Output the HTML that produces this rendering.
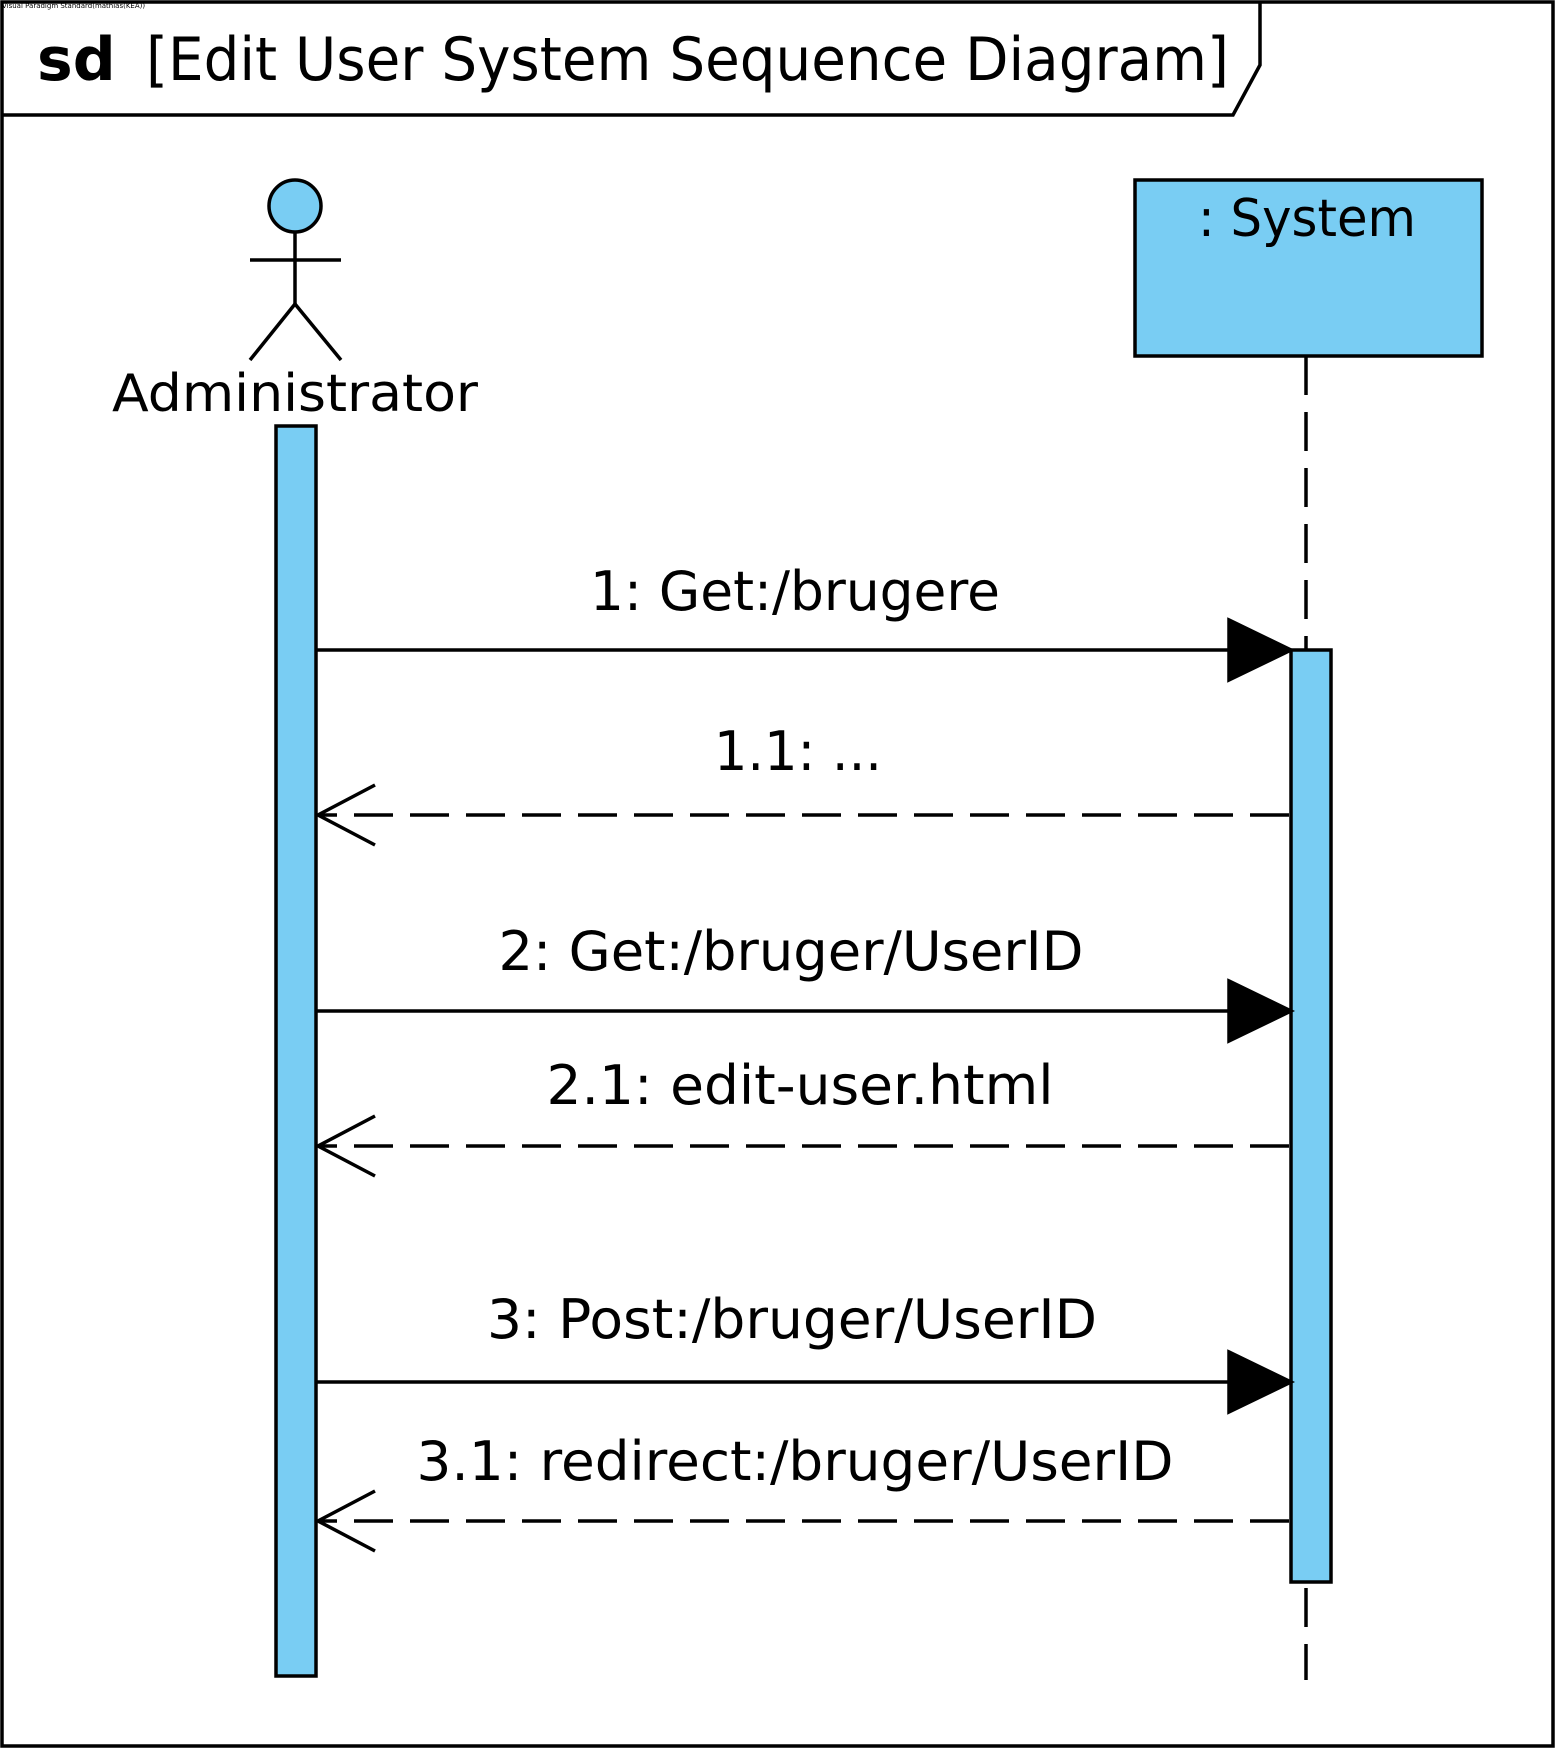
<!DOCTYPE html>
<html><head><meta charset="utf-8"><style>
html,body{margin:0;padding:0;background:#fff;width:1555px;height:1750px;overflow:hidden}
svg{display:block}
text{font-family:"DejaVu Sans","Liberation Sans",sans-serif;fill:#000}
</style></head><body>
<svg width="1555" height="1750" viewBox="0 0 1555 1750" xmlns="http://www.w3.org/2000/svg">
<rect x="2" y="2" width="1551" height="1744" fill="#fff" stroke="#000" stroke-width="3.5"/>
<polyline points="2,115 1233,115 1260,65 1260,2" fill="none" stroke="#000" stroke-width="3.5"/>
<text x="2" y="8" font-size="7" fill="#555">Visual Paradigm Standard(mathias(KEA))</text>
<text x="37" y="80" font-size="60" font-weight="bold">sd</text>
<text x="146" y="80" font-size="60" textLength="1083" lengthAdjust="spacingAndGlyphs">[Edit User System Sequence Diagram]</text>

<!-- actor -->
<g stroke="#000" stroke-width="3.5" fill="none">
<circle cx="295" cy="206" r="26" fill="#79cdf3"/>
<line x1="295" y1="232" x2="295" y2="304"/>
<line x1="250" y1="260" x2="341" y2="260"/>
<line x1="295" y1="304" x2="250" y2="360"/>
<line x1="295" y1="304" x2="341" y2="360"/>
</g>
<text x="295" y="411" font-size="52" text-anchor="middle" textLength="366" lengthAdjust="spacingAndGlyphs">Administrator</text>
<rect x="276" y="426" width="40" height="1250" fill="#79cdf3" stroke="#000" stroke-width="3.5"/>

<!-- system -->
<rect x="1135" y="180" width="347" height="176" fill="#79cdf3" stroke="#000" stroke-width="3.5"/>
<text x="1307" y="236" font-size="52" text-anchor="middle" textLength="218" lengthAdjust="spacingAndGlyphs">: System</text>
<line x1="1306" y1="356" x2="1306" y2="1680" stroke="#000" stroke-width="3.5" stroke-dasharray="39,17"/>
<rect x="1291" y="650" width="40" height="932" fill="#79cdf3" stroke="#000" stroke-width="3.5"/>

<!-- messages -->
<g stroke="#000" stroke-width="3.5">
<line x1="316" y1="650" x2="1232" y2="650"/>
<polygon points="1229,620 1291,650 1229,680" fill="#000"/>
<line x1="316" y1="1011" x2="1232" y2="1011"/>
<polygon points="1229,981 1291,1011 1229,1041" fill="#000"/>
<line x1="316" y1="1382" x2="1232" y2="1382"/>
<polygon points="1229,1352 1291,1382 1229,1412" fill="#000"/>
<g stroke-dasharray="39,17" fill="none">
<line x1="1289" y1="815" x2="318" y2="815"/>
<line x1="1289" y1="1146" x2="318" y2="1146"/>
<line x1="1289" y1="1521" x2="318" y2="1521"/>
</g>
<polyline points="375,785 318,815 375,845" fill="none"/>
<polyline points="375,1116 318,1146 375,1176" fill="none"/>
<polyline points="375,1491 318,1521 375,1551" fill="none"/>
</g>
<g font-size="54" text-anchor="middle">
<text x="795" y="610" textLength="410" lengthAdjust="spacingAndGlyphs">1: Get:/brugere</text>
<text x="798" y="770" textLength="168" lengthAdjust="spacingAndGlyphs">1.1: ...</text>
<text x="791" y="970" textLength="585" lengthAdjust="spacingAndGlyphs">2: Get:/bruger/UserID</text>
<text x="800" y="1104" textLength="507" lengthAdjust="spacingAndGlyphs">2.1: edit-user.html</text>
<text x="792" y="1338" textLength="610" lengthAdjust="spacingAndGlyphs">3: Post:/bruger/UserID</text>
<text x="795" y="1480" textLength="757" lengthAdjust="spacingAndGlyphs">3.1: redirect:/bruger/UserID</text>
</g>
</svg>
</body></html>
